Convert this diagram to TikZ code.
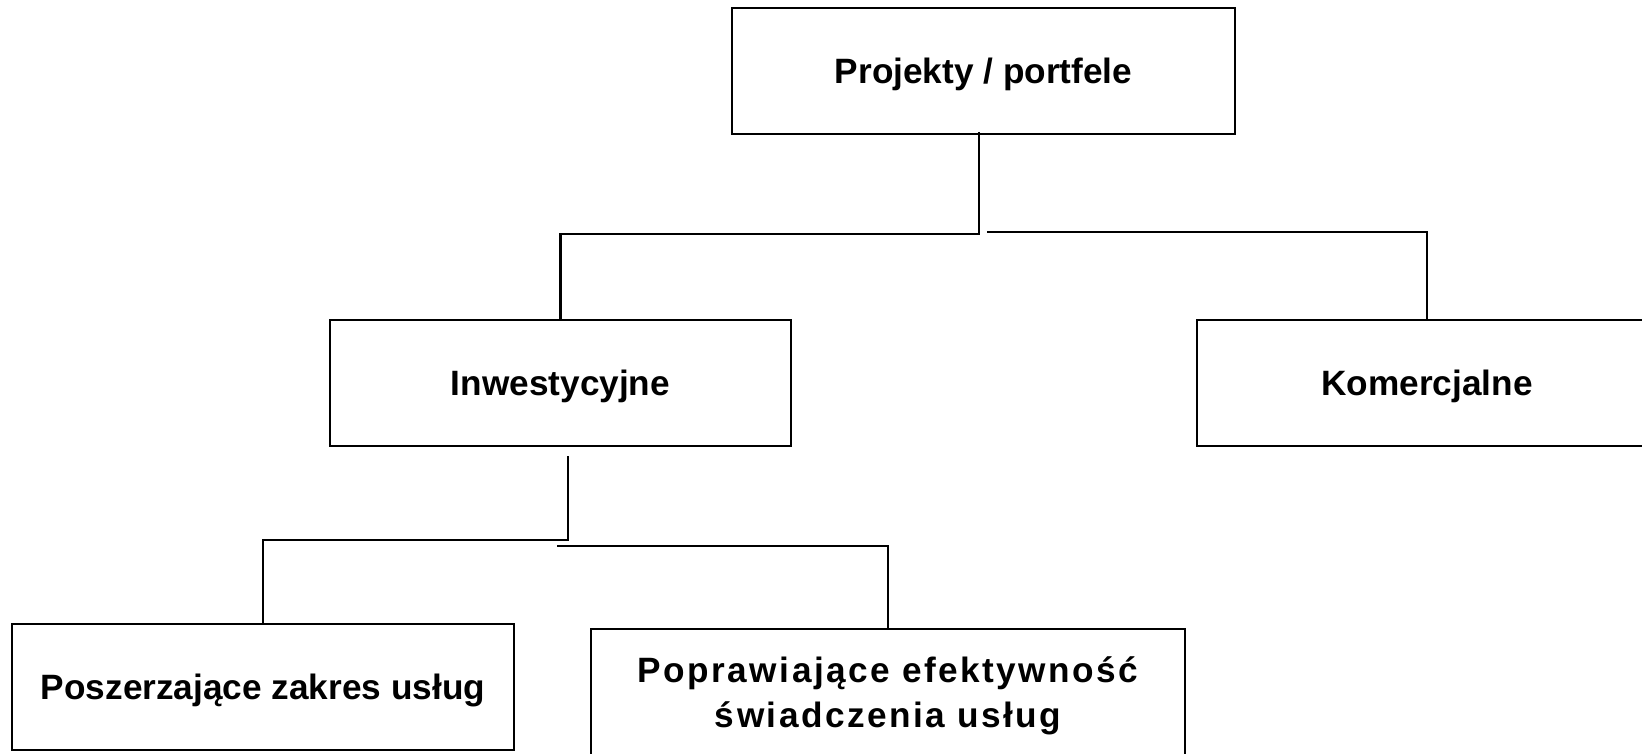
\documentclass[tikz,border=0pt]{standalone}
\usepackage{fontspec}
\setmainfont{Liberation Sans}
\newfontfamily\rozstrzelony[LetterSpace=7]{Liberation Sans}

\begin{document}
\begin{tikzpicture}[x=0.5pt,y=-0.5pt]
\tikzstyle{nodo caja}=[draw,line width=1pt,inner sep=0pt,text depth=0pt,minimum height=63pt,align=center,font=\fontsize{17.6}{22.5}\selectfont\bfseries]
\tikzstyle{linea}=[line width=1.2pt]

\useasboundingbox (0,0) rectangle (1642,754);
\clip (0,0) rectangle (1642,754);

\node[nodo caja,minimum width=251.5pt] (proj) at (983.5,71) {Projekty / portfele};
\node[nodo caja,minimum width=230.5pt] (inw) at (560.5,382.5) {Inwestycyjne};
\node[nodo caja,minimum width=230pt] (kom) at (1427,382.5) {Komercjalne};
\node[nodo caja,minimum width=251pt] (posz) at (263,687) {Poszerzające zakres usług};
\node[nodo caja,minimum width=297pt,font=\fontsize{17.6}{22.5}\selectfont\bfseries\rozstrzelony] (popr) at (888,692) {Poprawiające efektywność\\świadczenia usług};

% punkty sueltos de los conectores
\coordinate (v1) at (979,132);
\coordinate (v2) at (987,232);
\coordinate (v3) at (568,456);
\coordinate (v4) at (557,546);

\draw[linea] (v1) -- (979,234) -| (inw.north);
\draw[linea] (v2) -| (kom.north);
\draw[linea] (v3) -- (568,540) -| (posz.north);
\draw[linea] (v4) -| (popr.north);
\end{tikzpicture}
\end{document}
